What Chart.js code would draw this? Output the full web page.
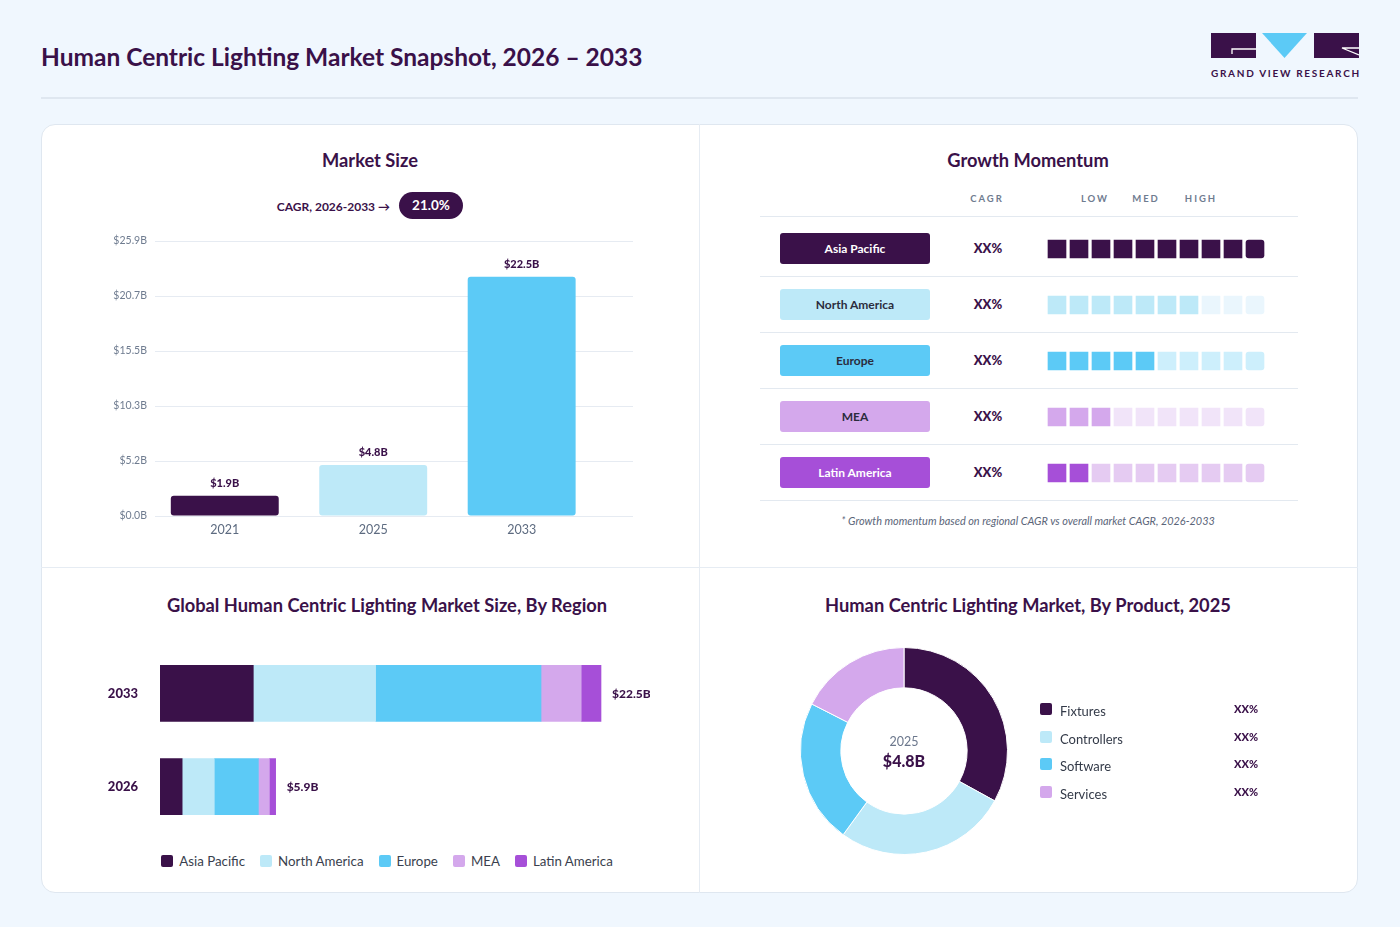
<!DOCTYPE html>
<html>
<head>
<meta charset="utf-8">
<script src="https://cdn.jsdelivr.net/npm/chart.js@4.4.1/dist/chart.umd.min.js"></script>
<style>
body{margin:0;width:1400px;height:927px;background:#f0f7fe;font-family:Lato,"Noto Sans",sans-serif;color:#3a1149;position:relative;overflow:hidden}
.abs{position:absolute}
.ctr{position:absolute;text-align:center;white-space:nowrap}
.card{left:41px;top:124px;width:1317px;height:769px;background:#fff;border:1px solid #dfe7f0;border-radius:14px;box-sizing:border-box}
.sec{font-size:18.3px;font-weight:700;line-height:22px;width:600px}
.hd{font-size:9.5px;font-weight:700;letter-spacing:2px;color:#6f7c90;width:80px;line-height:12px}
.rule{left:760px;width:538px;height:1px;background:#e3e9f0}
.pill{left:780px;width:150px;height:31px;line-height:31px;border-radius:3px;font-size:12px;font-weight:700;text-align:center}
.xx{width:60px;font-size:13px;font-weight:900;line-height:31px}
canvas{position:absolute}
</style>
</head>
<body>
<div class="abs" style="left:41px;top:41px;font-size:24.5px;font-weight:700;line-height:32px">Human Centric Lighting Market Snapshot, 2026 – 2033</div>
<div class="abs" style="left:41px;top:97px;width:1317px;height:2px;background:#dfe7f0"></div>
<svg class="abs" style="left:1211px;top:33px" width="148" height="26" viewBox="0 0 148 26">
  <rect x="0" y="0" width="45" height="25" fill="#3a1149"/>
  <path d="M45 16 H21 V21" stroke="#fff" stroke-width="1.3" fill="none"/>
  <polygon points="51,0 96,0 73.5,25" fill="#5ccaf6"/>
  <rect x="103" y="0" width="45" height="25" fill="#3a1149"/>
  <path d="M148 15 L131 15 L148 22" stroke="#fff" stroke-width="1.3" fill="none"/>
</svg>
<div class="abs" style="left:1211px;top:67px;font-size:10px;font-weight:700;letter-spacing:1.7px;line-height:12px">GRAND VIEW RESEARCH</div>

<div class="abs card"></div>
<div class="abs" style="left:699px;top:124px;width:1px;height:769px;background:#e6ecf3"></div>
<div class="abs" style="left:41px;top:567px;width:1317px;height:1px;background:#e6ecf3"></div>

<!-- market size -->
<div class="ctr sec" style="left:70px;top:149px">Market Size</div>
<div class="abs" style="left:240px;top:199px;width:150px;text-align:right;font-size:12px;font-weight:700;line-height:15px">CAGR, 2026-2033 →</div>
<div class="abs" id="cagrPill" style="left:399px;top:192px;width:64px;height:27px;line-height:27px;border-radius:14px;background:#3a1149;color:#fff;text-align:center;font-size:13.5px;font-weight:700"></div>
<canvas id="sizeChart" width="543" height="315" style="left:90px;top:231px"></canvas>

<!-- growth momentum -->
<div class="ctr sec" style="left:728px;top:149px">Growth Momentum</div>
<div class="ctr hd" style="left:947px;top:193px">CAGR</div>
<div class="ctr hd" style="left:1055px;top:193px">LOW</div>
<div class="ctr hd" style="left:1106px;top:193px">MED</div>
<div class="ctr hd" style="left:1161px;top:193px">HIGH</div>
<div id="momRows"></div>
<canvas id="momChart" width="220" height="280" style="left:1046px;top:221px"></canvas>
<div class="ctr" style="left:728px;top:514px;width:600px;font-size:10.9px;font-style:italic;color:#5b6579;line-height:14px">* Growth momentum based on regional CAGR vs overall market CAGR, 2026-2033</div>

<!-- by region -->
<div class="ctr sec" style="left:87px;top:594px">Global Human Centric Lighting Market Size, By Region</div>
<canvas id="regionChart" width="560" height="202" style="left:90px;top:639px"></canvas>
<div id="regionLegend" class="abs" style="left:87px;top:853px;width:600px;display:flex;justify-content:center;gap:15px;font-size:13.3px;color:#3a3f4e;line-height:16px"></div>

<!-- by product -->
<div class="ctr sec" style="left:728px;top:594px">Human Centric Lighting Market, By Product, 2025</div>
<canvas id="productChart" width="208" height="208" style="left:800px;top:647px"></canvas>
<div class="ctr" style="left:854px;top:734px;width:100px;font-size:12.5px;color:#6b778c;line-height:16px">2025</div>
<div class="ctr" id="productTotal" style="left:854px;top:751px;width:100px;font-size:16px;font-weight:900;line-height:20px"></div>
<div id="productLegend"></div>

<script>
// market size
const sizeYears = ['2021', '2025', '2033']
const sizeValues = [1.9, 4.8, 22.5]
const sizeColors = ['#3a1149', '#bde9f8', '#5ccaf6']
const sizeTicks = ['$0.0B', '$5.2B', '$10.3B', '$15.5B', '$20.7B', '$25.9B']
const sizeMax = 25.875
const cagrText = '21.0%'

// regions + momentum
const regions = ['Asia Pacific', 'North America', 'Europe', 'MEA', 'Latin America']
const regionColors = ['#3a1149', '#bde9f8', '#5ccaf6', '#d4a8ec', '#a64fd8']
const regionFaded = ['#3a1149', '#eaf6fd', '#cdeffc', '#f1e4f9', '#e5cbf2']
const regionText = ['#fff', '#2b2c3d', '#2b2c3d', '#2b2c3d', '#fff']
const regionCagr = ['XX%', 'XX%', 'XX%', 'XX%', 'XX%']
const momentumScores = [10, 7, 5, 3, 2]

// stacked by region
const stackYears = ['2033', '2026']
const apValues = [4.76, 1.13]
const naValues = [6.24, 1.64]
const euValues = [8.44, 2.25]
const meaValues = [2.05, 0.56]
const laValues = [1.01, 0.32]
const stackTotals = ['$22.5B', '$5.9B']

// by product
const products = ['Fixtures', 'Controllers', 'Software', 'Services']
const productShares = [33, 27, 22.5, 17.5]
const productColors = ['#3a1149', '#bde9f8', '#5ccaf6', '#d4a8ec']
const productLabels = ['XX%', 'XX%', 'XX%', 'XX%']
const productTotal = '$4.8B'

Chart.defaults.font.family = 'Lato'
Chart.defaults.animation = false
Chart.defaults.plugins.legend.display = false
Chart.defaults.plugins.tooltip.enabled = false

document.getElementById('cagrPill').textContent = cagrText
document.getElementById('productTotal').textContent = productTotal

// bar labels on top
const sizeLabels = {
    id: 'sizeLabels',
    afterDatasetsDraw(chart) {
        let ctx = chart.ctx
        ctx.save()
        ctx.font = '900 11px Lato'
        ctx.fillStyle = '#3a1149'
        ctx.textAlign = 'center'
        ctx.textBaseline = 'bottom'
        chart.getDatasetMeta(0).data.forEach((bar, i) => {
            ctx.fillText('$' + sizeValues[i].toFixed(1) + 'B', bar.x, bar.y - 7)
        })
        ctx.restore()
    }
}

new Chart(document.getElementById('sizeChart'), {
    type: 'bar',
    data: {
        datasets: [{
            data: sizeValues.map((v, i) => ({x: i, y: v})),
            backgroundColor: sizeColors,
            borderRadius: 3,
            borderSkipped: false,
            barPercentage: 0.727,
            categoryPercentage: 1
        }]
    },
    options: {
        responsive: false,
        layout: {padding: {top: 10, left: 0, right: 0, bottom: 0}},
        scales: {
            x: {
                type: 'linear', min: -0.47, max: 2.75, offset: false,
                grid: {display: false, drawTicks: false}, border: {display: false},
                afterBuildTicks: s => { s.ticks = sizeYears.map((_, i) => ({value: i})) },
                afterFit: s => { s.height = 30 },
                ticks: {callback: v => sizeYears[v], color: '#5d6b80', font: {size: 12.5}, padding: 6, maxRotation: 0}
            },
            y: {
                min: 0, max: sizeMax,
                afterBuildTicks: s => { s.ticks = sizeTicks.map((_, i) => ({value: i * sizeMax / 5})) },
                afterFit: s => { s.width = 65 },
                ticks: {callback: (v, i) => sizeTicks[i], color: '#6f7c90', font: {size: 10.5}, padding: 0},
                grid: {color: '#e6ebf2', drawTicks: true, tickLength: 8, tickColor: 'rgba(0,0,0,0)'},
                border: {display: false}
            }
        }
    },
    plugins: [sizeLabels]
})

// momentum rows (pills + text)
let rowsHtml = '<div class="abs rule" style="top:216px"></div>'
regions.forEach((r, i) => {
    let top = 233 + i * 56
    rowsHtml += `<div class="abs pill" style="top:${top}px;background:${regionColors[i]};color:${regionText[i]}">${r}</div>`
    rowsHtml += `<div class="ctr xx" style="left:958px;top:${top}px">${regionCagr[i]}</div>`
    rowsHtml += `<div class="abs rule" style="top:${276 + i * 56}px"></div>`
})
document.getElementById('momRows').innerHTML = rowsHtml

// momentum squares as stacked bars, one dataset per step
let momDatasets = []
for (let j = 0; j < 10; j++) {
    momDatasets.push({
        data: regions.map(() => 1),
        backgroundColor: regions.map((r, i) => j < momentumScores[i] ? regionColors[i] : regionFaded[i]),
        borderColor: '#fff',
        borderWidth: 2,
        borderRadius: 5,
        borderSkipped: false,
        barThickness: 22
    })
}
new Chart(document.getElementById('momChart'), {
    type: 'bar',
    data: {labels: regions, datasets: momDatasets},
    options: {
        responsive: false,
        indexAxis: 'y',
        layout: {padding: 0},
        scales: {
            x: {stacked: true, min: 0, max: 10, display: false},
            y: {stacked: true, display: false}
        }
    }
})

// stacked region chart
const totalLabels = {
    id: 'totalLabels',
    afterDatasetsDraw(chart) {
        let ctx = chart.ctx
        let last = chart.getDatasetMeta(chart.data.datasets.length - 1)
        ctx.save()
        ctx.font = '900 12px Lato'
        ctx.fillStyle = '#3a1149'
        ctx.textAlign = 'left'
        ctx.textBaseline = 'middle'
        last.data.forEach((bar, i) => ctx.fillText(stackTotals[i], bar.x + 11, bar.y + 1))
        ctx.restore()
    }
}
let stackSeries = [apValues, naValues, euValues, meaValues, laValues]
new Chart(document.getElementById('regionChart'), {
    type: 'bar',
    data: {
        labels: stackYears,
        datasets: stackSeries.map((vals, i) => ({
            label: regions[i],
            data: vals,
            backgroundColor: regionColors[i],
            barThickness: 56
        }))
    },
    options: {
        responsive: false,
        indexAxis: 'y',
        layout: {padding: 0},
        scales: {
            x: {stacked: true, min: 0, max: 25, display: false},
            y: {
                stacked: true,
                grid: {display: false, drawTicks: true, tickLength: 22}, border: {display: false},
                afterFit: s => { s.width = 70 },
                ticks: {color: '#3a1149', font: {size: 13, weight: '900'}, padding: 0}
            }
        }
    },
    plugins: [totalLabels]
})
document.getElementById('regionLegend').innerHTML = regions.map((r, i) =>
    `<span style="display:flex;align-items:center;gap:6px"><span style="width:12px;height:12px;border-radius:2px;background:${regionColors[i]}"></span>${r}</span>`
).join('')

// product donut
new Chart(document.getElementById('productChart'), {
    type: 'doughnut',
    data: {
        labels: products,
        datasets: [{data: productShares, backgroundColor: productColors, borderColor: '#fff', borderWidth: 1}]
    },
    options: {responsive: false, cutout: '61%', layout: {padding: 0}}
})
let legHtml = ''
products.forEach((p, i) => {
    let y = 710 + i * 27.7
    legHtml += `<div class="abs" style="left:1040px;top:${y - 7}px;width:12px;height:12px;border-radius:2px;background:${productColors[i]}"></div>`
    legHtml += `<div class="abs" style="left:1060px;top:${y - 8}px;font-size:13px;color:#333a48;line-height:18px">${p}</div>`
    legHtml += `<div class="abs" style="left:1198px;top:${y - 9}px;width:60px;text-align:right;font-size:11px;font-weight:900;line-height:16px">${productLabels[i]}</div>`
})
document.getElementById('productLegend').innerHTML = legHtml
</script>
</body>
</html>
